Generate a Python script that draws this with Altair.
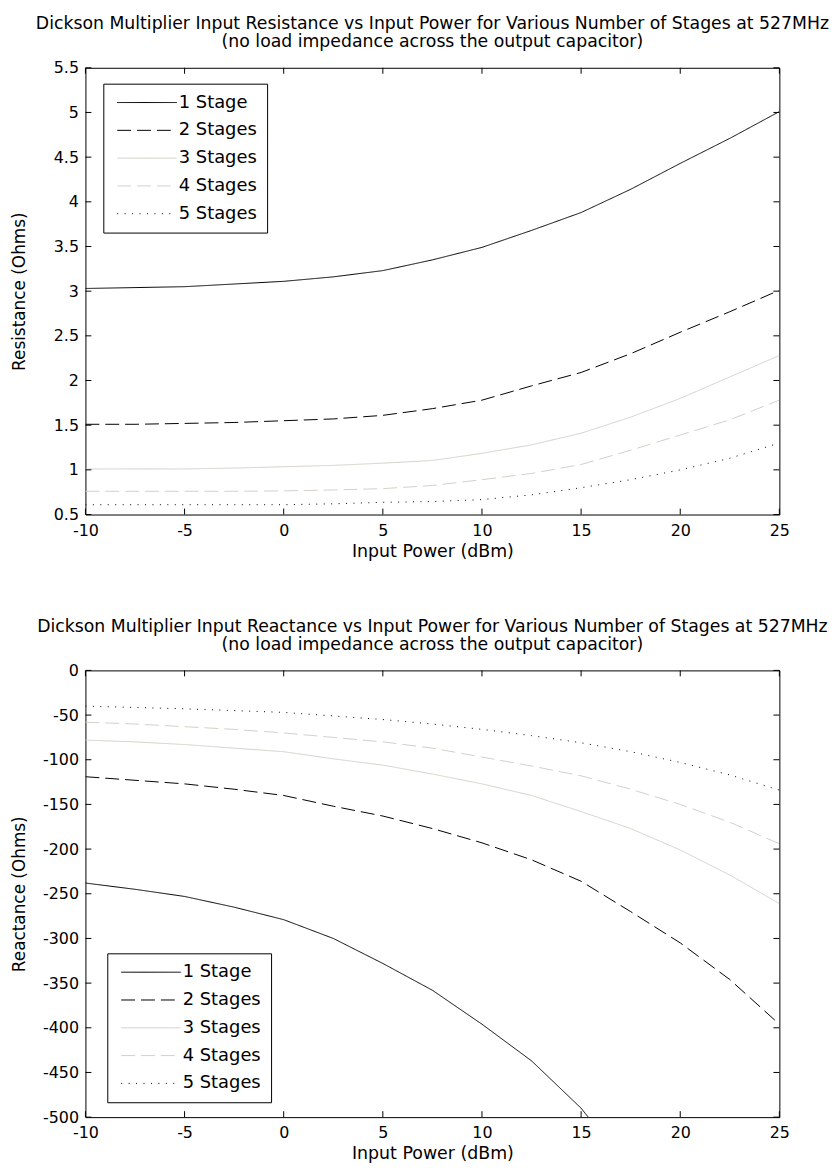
import altair as alt
import pandas as pd

# ---------------- data ----------------
power = [-10, -7.5, -5, -2.5, 0, 2.5, 5, 7.5, 10, 12.5, 15, 17.5, 20, 22.5, 25]
stage_labels = ["1 Stage", "2 Stages", "3 Stages", "4 Stages", "5 Stages"]

res_1 = [3.03, 3.04, 3.05, 3.08, 3.11, 3.16, 3.23, 3.35, 3.49, 3.68, 3.88, 4.14, 4.43, 4.71, 5.01]
res_2 = [1.51, 1.51, 1.52, 1.53, 1.55, 1.57, 1.61, 1.685, 1.78, 1.94, 2.09, 2.30, 2.54, 2.77, 3.01]
res_3 = [1.01, 1.01, 1.01, 1.02, 1.035, 1.05, 1.075, 1.105, 1.185, 1.28, 1.41, 1.59, 1.80, 2.04, 2.28]
res_4 = [0.76, 0.76, 0.76, 0.76, 0.765, 0.775, 0.79, 0.825, 0.89, 0.96, 1.06, 1.22, 1.39, 1.56, 1.78]
res_5 = [0.61, 0.61, 0.61, 0.61, 0.61, 0.62, 0.637, 0.645, 0.667, 0.72, 0.80, 0.89, 1.0, 1.13, 1.30]

react_1 = [-238, -245, -253, -265, -279, -300, -328, -358, -396, -437, -490, -560]
react_2 = [-119, -123, -127, -133, -140, -152, -163, -177, -193, -212, -236, -270, -305, -346, -396]
react_3 = [-78, -80, -83, -87, -91, -99, -106, -116, -127, -140, -158, -177, -201, -229, -261]
react_4 = [-58, -60, -63, -66, -70, -75, -80, -87, -97, -107, -118, -133, -150, -170, -194]
react_5 = [-40, -41.5, -43, -45, -47, -51, -55, -60, -66, -73, -81, -91, -103, -117, -134]

x_ticks = [-10, -5, 0, 5, 10, 15, 20, 25]
res_ticks = [0.5, 1, 1.5, 2, 2.5, 3, 3.5, 4, 4.5, 5, 5.5]
react_ticks = [-500, -450, -400, -350, -300, -250, -200, -150, -100, -50, 0]

title_res = ["Dickson Multiplier Input Resistance vs Input Power for Various Number of Stages at 527MHz",
             "(no load impedance across the output capacitor)"]
title_react = ["Dickson Multiplier Input Reactance vs Input Power for Various Number of Stages at 527MHz",
               "(no load impedance across the output capacitor)"]

# ---------------- styles ----------------
FONT = "DejaVu Sans"
W, H = 699, 450
TICK = 6
colors = ["#000000", "#000000", "#d4d0c8", "#d4d0c8", "#000000"]
dashes = [[1, 0], [14, 6], [1, 0], [14, 6], [1, 6.5]]


def long_df(series):
    rows = []
    for lab, vals in zip(stage_labels, series):
        for p, v in zip(power, vals):
            rows.append({"power": p, "value": v, "stage": lab})
    return pd.DataFrame(rows)


def panel(series, ydom, yticks, ytitle, title, lx, ly):
    df = long_df(series)
    x_enc = alt.X("power:Q",
                  scale=alt.Scale(domain=[-10, 25], nice=False, zero=False),
                  axis=alt.Axis(values=x_ticks, title="Input Power (dBm)",
                                labelExpr="toString(datum.value)"))
    y_enc = alt.Y("value:Q",
                  scale=alt.Scale(domain=ydom, nice=False, zero=False),
                  axis=alt.Axis(values=yticks, title=ytitle,
                                labelExpr="toString(datum.value)"))
    leg = alt.Legend(title=None, orient="none", legendX=lx, legendY=ly)
    lines = alt.Chart(df).mark_line(strokeWidth=1, clip=True).encode(
        x=x_enc,
        y=y_enc,
        color=alt.Color("stage:N", scale=alt.Scale(domain=stage_labels, range=colors), legend=leg),
        strokeDash=alt.StrokeDash("stage:N", scale=alt.Scale(domain=stage_labels, range=dashes),
                                  legend=leg),
    )
    xt = pd.DataFrame({"power": x_ticks})
    yt = pd.DataFrame({"value": yticks})
    xb = alt.Chart(xt).mark_rule(color="black", strokeWidth=1).encode(
        x=x_enc, y=alt.value(H), y2=alt.value(H - TICK))
    xtp = alt.Chart(xt).mark_rule(color="black", strokeWidth=1).encode(
        x=x_enc, y=alt.value(0), y2=alt.value(TICK))
    yl = alt.Chart(yt).mark_rule(color="black", strokeWidth=1).encode(
        y=y_enc, x=alt.value(0), x2=alt.value(TICK))
    yr = alt.Chart(yt).mark_rule(color="black", strokeWidth=1).encode(
        y=y_enc, x=alt.value(W), x2=alt.value(W - TICK))
    return alt.layer(lines, xb, xtp, yl, yr).properties(
        width=W, height=H,
        title=alt.TitleParams(text=title, font=FONT, fontSize=17.4, fontWeight="normal",
                              color="black", anchor="middle", frame="group",
                              lineHeight=18, offset=9.5),
    )


top = panel([res_1, res_2, res_3, res_4, res_5], [0.5, 5.5], res_ticks,
            "Resistance (Ohms)", title_res, 18, 16)
bottom = panel([react_1, react_2, react_3, react_4, react_5], [-500, 0], react_ticks,
               "Reactance (Ohms)", title_react, 22, 285)

chart = alt.vconcat(top, bottom, spacing=57).resolve_scale(
    color="independent", strokeDash="independent"
).resolve_legend(
    color="independent", strokeDash="independent"
).properties(
    padding={"left": 2, "top": 2, "right": 0, "bottom": 0}
).configure_view(
    stroke="black", strokeWidth=1
).configure_axis(
    domain=False, ticks=False, grid=False, labelFlush=False,
    labelFont=FONT, labelFontSize=16, labelColor="black",
    titleFont=FONT, titleFontSize=17.5, titleFontWeight="normal", titleColor="black",
).configure_axisX(
    labelPadding=8, titlePadding=4,
).configure_axisY(
    labelPadding=7, minExtent=48, maxExtent=48, titlePadding=9, titleFontSize=17,
).configure_legend(
    symbolType="M-1,0L11,0", symbolSize=100, symbolStrokeWidth=1,
    labelFont=FONT, labelFontSize=18, labelColor="black", labelOffset=48,
    strokeColor="black", fillColor="white", padding=10, rowPadding=10,
)

chart.save("out.html", embed_options={"renderer": "svg", "actions": False})
